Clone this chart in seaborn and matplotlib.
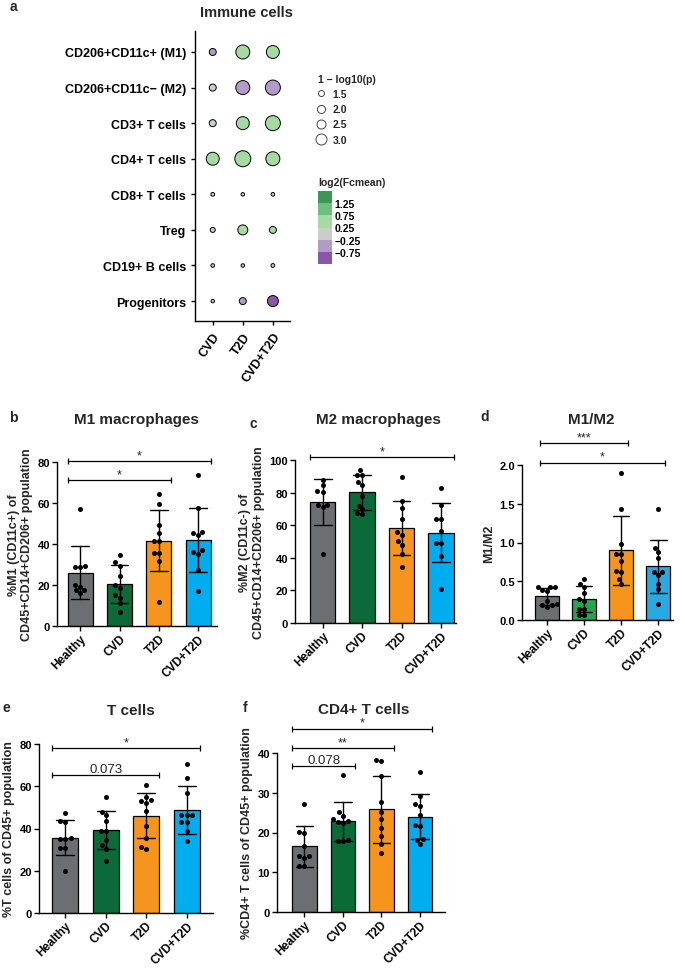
import numpy as np
import pandas as pd
import matplotlib
matplotlib.use("Agg")
import matplotlib as mpl
import matplotlib.pyplot as plt
import matplotlib.colors as mcolors
from matplotlib.lines import Line2D
import seaborn as sns

# ---------------- data ----------------
groups = ["Healthy", "CVD", "T2D", "CVD+T2D"]

# panel a - dot plot
cell_types = ["CD206+CD11c+ (M1)", "CD206+CD11c\u2212 (M2)", "CD3+ T cells", "CD4+ T cells",
              "CD8+ T cells", "Treg", "CD19+ B cells", "Progenitors"]
conditions = ["CVD", "T2D", "CVD+T2D"]
neglog_p = [[1.34, 2.69, 2.44],
            [1.34, 2.69, 2.96],
            [1.34, 2.44, 2.96],
            [2.44, 3.24, 2.69],
            [1.02, 1.00, 1.01],
            [1.12, 1.81, 1.34],
            [1.01, 1.00, 1.02],
            [1.00, 1.34, 2.00]]
log2fc = [[-0.50, 0.55, 0.50],
          [0.05, -0.55, -0.60],
          [0.10, 0.50, 0.60],
          [0.45, 0.60, 0.50],
          [0.00, -0.05, 0.10],
          [0.10, 0.45, 0.35],
          [0.05, 0.00, -0.10],
          [0.10, -0.45, -0.90]]
fc_bounds = [-1.25, -0.75, -0.25, 0.25, 0.75, 1.25, 1.75]
fc_ticks = [1.25, 0.75, 0.25, -0.25, -0.75]
fc_tick_labels = ["1.25", "0.75", "0.25", "\u22120.25", "\u22120.75"]
size_breaks = ["1.5", "2.0", "2.5", "3.0"]

# panel b - M1 macrophages
m1_healthy = [57.3, 29.5, 29.0, 29.0, 20.0, 19.0, 17.5, 17.5, 16.0]
m1_cvd = [34.5, 31.0, 29.5, 24.5, 20.0, 18.5, 15.0, 13.5, 11.0, 7.0]
m1_t2d = [64.6, 59.3, 49.3, 45.5, 41.3, 41.3, 35.8, 35.8, 31.7, 11.7]
m1_both = [73.6, 57.7, 46.0, 45.5, 44.4, 37.0, 36.3, 35.3, 27.3, 17.0]

# panel c - M2 macrophages
m2_healthy = [88.0, 84.5, 81.0, 80.5, 72.5, 72.5, 71.0, 42.5]
m2_cvd = [93.8, 90.9, 90.9, 86.8, 84.7, 78.0, 72.0, 69.7, 67.6, 66.6]
m2_t2d = [89.7, 74.8, 70.3, 63.5, 56.0, 54.2, 50.1, 48.0, 42.3, 34.4]
m2_both = [82.7, 72.4, 64.1, 64.1, 56.7, 49.1, 49.1, 40.8, 20.6]

# panel d - M1/M2 ratio
ratio_healthy = [0.43, 0.42, 0.42, 0.39, 0.37, 0.25, 0.21, 0.20, 0.19, 0.17]
ratio_cvd = [0.53, 0.47, 0.43, 0.35, 0.27, 0.25, 0.14, 0.14, 0.07, 0.07]
ratio_t2d = [1.90, 1.43, 0.98, 0.85, 0.85, 0.76, 0.63, 0.62, 0.53, 0.47]
ratio_both = [1.43, 0.93, 0.875, 0.80, 0.625, 0.62, 0.58, 0.47, 0.40, 0.21]

# panel e - T cells
t_healthy = [47.3, 43.75, 43.3, 35.5, 35.2, 35.2, 30.8, 30.8, 19.8]
t_cvd = [55.0, 48.0, 46.4, 43.6, 38.9, 38.6, 34.7, 32.3, 30.5, 24.5]
t_t2d = [60.8, 55.0, 53.4, 53.0, 52.3, 48.4, 41.3, 35.5, 31.1, 30.3]
t_both = [70.6, 63.9, 56.6, 46.4, 46.4, 46.4, 43.3, 43.3, 38.9, 33.9]

# panel f - CD4+ T cells
cd4_healthy = [27.2, 20.1, 19.8, 16.7, 14.1, 14.0, 13.6, 11.6, 11.6]
cd4_cvd = [34.5, 25.1, 24.2, 23.3, 23.0, 22.6, 22.5, 18.0, 17.9, 17.8]
cd4_t2d = [38.0, 38.2, 34.1, 27.6, 25.2, 23.4, 21.2, 19.0, 17.2, 14.9]
cd4_both = [35.2, 29.1, 27.2, 26.7, 24.4, 21.9, 21.7, 18.3, 18.2, 17.2]

# significance: (compared group, bracket height, label)
b_sig = [("T2D", 71.0, "*"), ("CVD+T2D", 80.5, "*")]
c_sig = [("CVD+T2D", 101.6, "*")]
d_sig = [("T2D", 2.28, "***"), ("CVD+T2D", 2.03, "*")]
e_sig = [("T2D", 65.5, "0.073"), ("CVD+T2D", 78.1, "*")]
f_sig = [("CVD", 36.75, "0.078"), ("T2D", 41.25, "**"), ("CVD+T2D", 46.1, "*")]

# ---------------- style ----------------
sns.set_style("ticks")
plt.rcParams["font.family"] = ["Liberation Sans", "DejaVu Sans"]
plt.rcParams["font.weight"] = "bold"
plt.rcParams["axes.labelweight"] = "bold"
plt.rcParams["axes.linewidth"] = 1.0
plt.rcParams["axes.edgecolor"] = "black"
plt.rcParams["xtick.major.width"] = 1.0
plt.rcParams["ytick.major.width"] = 1.0
plt.rcParams["xtick.major.size"] = 3.5
plt.rcParams["ytick.major.size"] = 3.5
plt.rcParams["xtick.color"] = "black"
plt.rcParams["ytick.color"] = "black"

bar_colors = ["#6d6e71", "#0b6a37", "#f7941d", "#00aeef"]
bar_colors_d = ["#6d6e71", "#1fa84f", "#f7941d", "#27a9e1"]
fc_cmap = mcolors.ListedColormap(["#8a56a7", "#b39bc9", "#c9cec9", "#a6daa3", "#6bc07e", "#3b9658"])
fc_norm = mcolors.BoundaryNorm(fc_bounds, fc_cmap.N)

W, H = 685, 970
fig = plt.figure(figsize=(W / 100, H / 100), dpi=100)


def add_axes_px(left, top, right, bottom):
    return fig.add_axes([left / W, 1 - bottom / H, (right - left) / W, (bottom - top) / H])


def label_px(x, y, s, **kw):
    fig.text(x / W, 1 - y / H, s, ha=kw.pop("ha", "center"), va="center", **kw)


# ---------------- panel a ----------------
ax_a = add_axes_px(195, 32, 290, 322)
dot_df = pd.DataFrame({
    "cell": np.repeat(cell_types, len(conditions)),
    "condition": conditions * len(cell_types),
    "score": np.ravel(neglog_p),
    "fc": np.ravel(log2fc),
})
sns.scatterplot(data=dot_df, x="condition", y="cell", hue="fc", palette=fc_cmap, hue_norm=fc_norm,
                size="score", sizes=(6.3, 136), size_norm=(1.0, 3.3),
                edgecolor="black", linewidth=0.7, legend=False, ax=ax_a)
ax_a.set_xlim(-0.59, 2.57)
ax_a.set_ylim(7.56, -0.59)
ax_a.set_xlabel("")
ax_a.set_ylabel("")
sns.despine(ax=ax_a)
ax_a.tick_params(axis="y", labelsize=9, length=3)
ax_a.tick_params(axis="x", labelsize=9, length=3)
plt.setp(ax_a.get_xticklabels(), rotation=55, ha="right", rotation_mode="anchor")

# size legend
size_handles = [Line2D([], [], ls="", marker="o", markersize=ms, markerfacecolor="white",
                       markeredgecolor="#444444", markeredgewidth=0.7)
                for ms in [4.3, 5.8, 6.5, 7.9]]
leg = ax_a.legend(size_handles, size_breaks, loc="upper left",
                  bbox_to_anchor=(316 / W, 1 - 90 / H), bbox_transform=fig.transFigure,
                  frameon=False, fontsize=7.5, handlelength=1.0,
                  handletextpad=0.6, labelspacing=0.5, borderpad=0, borderaxespad=0)
label_px(318, 80, "1 \u2212 log10(p)", fontsize=7.5, fontweight="bold", ha="left")

# colour legend
cax = add_axes_px(318, 192, 332, 265)
cb = fig.colorbar(mpl.cm.ScalarMappable(norm=fc_norm, cmap=fc_cmap), cax=cax, ticks=fc_ticks)
cb.outline.set_visible(False)
cb.ax.minorticks_off()
cb.ax.set_yticklabels(fc_tick_labels)
cax.tick_params(length=0, labelsize=7.5, pad=2)
label_px(318, 183, "log2(Fcmean)", fontsize=7.5, fontweight="bold", ha="left")

label_px(246, 13, "Immune cells", fontsize=10.5, fontweight="bold")
label_px(13, 7, "a", fontsize=10, fontweight="bold")


# ---------------- bar panels ----------------
def bar_panel(ax, values, colors, ylim, yticks, ylabel, xlim, sig, yfmt="{:.0f}", half=0.32):
    df = pd.DataFrame({
        "group": np.repeat(groups, [len(v) for v in values]),
        "value": np.concatenate(values),
    })
    sns.barplot(data=df, x="group", y="value", hue="group", order=groups, hue_order=groups,
                palette=colors, saturation=1, errorbar="sd", capsize=0.45, width=0.64,
                edgecolor="black", linewidth=0.9,
                err_kws={"color": "black", "linewidth": 1.0}, legend=False, ax=ax)
    sns.swarmplot(data=df, x="group", y="value", order=groups, color="black", size=3.6,
                  linewidth=0, zorder=4, ax=ax)
    ax.set_xlim(*xlim)
    ax.set_ylim(*ylim)
    ax.set_yticks(yticks)
    ax.set_yticklabels([yfmt.format(t) for t in yticks])
    ax.set_xlabel("")
    ax.set_ylabel(ylabel, fontsize=9, labelpad=3)
    sns.despine(ax=ax)
    ax.tick_params(axis="y", labelsize=8, pad=1.5)
    ax.tick_params(axis="x", labelsize=8.5, pad=1)
    plt.setp(ax.get_xticklabels(), rotation=45, ha="right", rotation_mode="anchor")
    for grp, y, txt in sig:
        x1, x2 = 0 - half, groups.index(grp) + half
        ax.plot([x1, x2], [y, y], color="black", lw=0.9, marker="|", markersize=5,
                markeredgewidth=0.9, clip_on=False)
        num = txt[0].isdigit()
        ax.text((x1 + x2) / 2, y, txt, ha="center", va="bottom", clip_on=False,
                fontsize=9.5 if num else 9, fontweight="normal")


ax_b = add_axes_px(57, 463, 217, 627)
bar_panel(ax_b, [m1_healthy, m1_cvd, m1_t2d, m1_both], bar_colors, (0, 80), [0, 20, 40, 60, 80],
          "%M1 (CD11c+) of\nCD45+CD14+CD206+ population", (-0.59, 3.48), b_sig)
label_px(136, 420, "M1 macrophages", fontsize=11, fontweight="bold")
label_px(13, 418, "b", fontsize=10, fontweight="bold")

ax_c = add_axes_px(295, 461, 456, 624)
bar_panel(ax_c, [m2_healthy, m2_cvd, m2_t2d, m2_both], bar_colors, (0, 100), [0, 20, 40, 60, 80, 100],
          "%M2 (CD11c-) of\nCD45+CD14+CD206+ population", (-0.7, 3.38), c_sig)
label_px(378, 420, "M2 macrophages", fontsize=11, fontweight="bold")
label_px(253, 424, "c", fontsize=10, fontweight="bold")

ax_d = add_axes_px(522, 466, 673, 621)
bar_panel(ax_d, [ratio_healthy, ratio_cvd, ratio_t2d, ratio_both], bar_colors_d, (0, 2.0),
          [0.0, 0.5, 1.0, 1.5, 2.0], "M1/M2", (-0.67, 3.4), d_sig, yfmt="{:.1f}", half=0.18)
label_px(591, 420, "M1/M2", fontsize=11, fontweight="bold")
label_px(485, 417, "d", fontsize=10, fontweight="bold")

ax_e = add_axes_px(39, 745, 213, 914)
bar_panel(ax_e, [t_healthy, t_cvd, t_t2d, t_both], bar_colors, (0, 80), [0, 20, 40, 60, 80],
          "%T cells of CD45+ population", (-0.65, 3.65), e_sig)
label_px(131, 711, "T cells", fontsize=11, fontweight="bold")
label_px(6, 708, "e", fontsize=10, fontweight="bold")

ax_f = add_axes_px(277, 754, 445, 913)
bar_panel(ax_f, [cd4_healthy, cd4_cvd, cd4_t2d, cd4_both], bar_colors, (0, 40), [0, 10, 20, 30, 40],
          "%CD4+ T cells of CD45+ population", (-0.71, 3.65), f_sig)
label_px(364, 710, "CD4+ T cells", fontsize=11, fontweight="bold")
label_px(245, 708, "f", fontsize=10, fontweight="bold")

fig.savefig("out.png", dpi=100, facecolor="white")
